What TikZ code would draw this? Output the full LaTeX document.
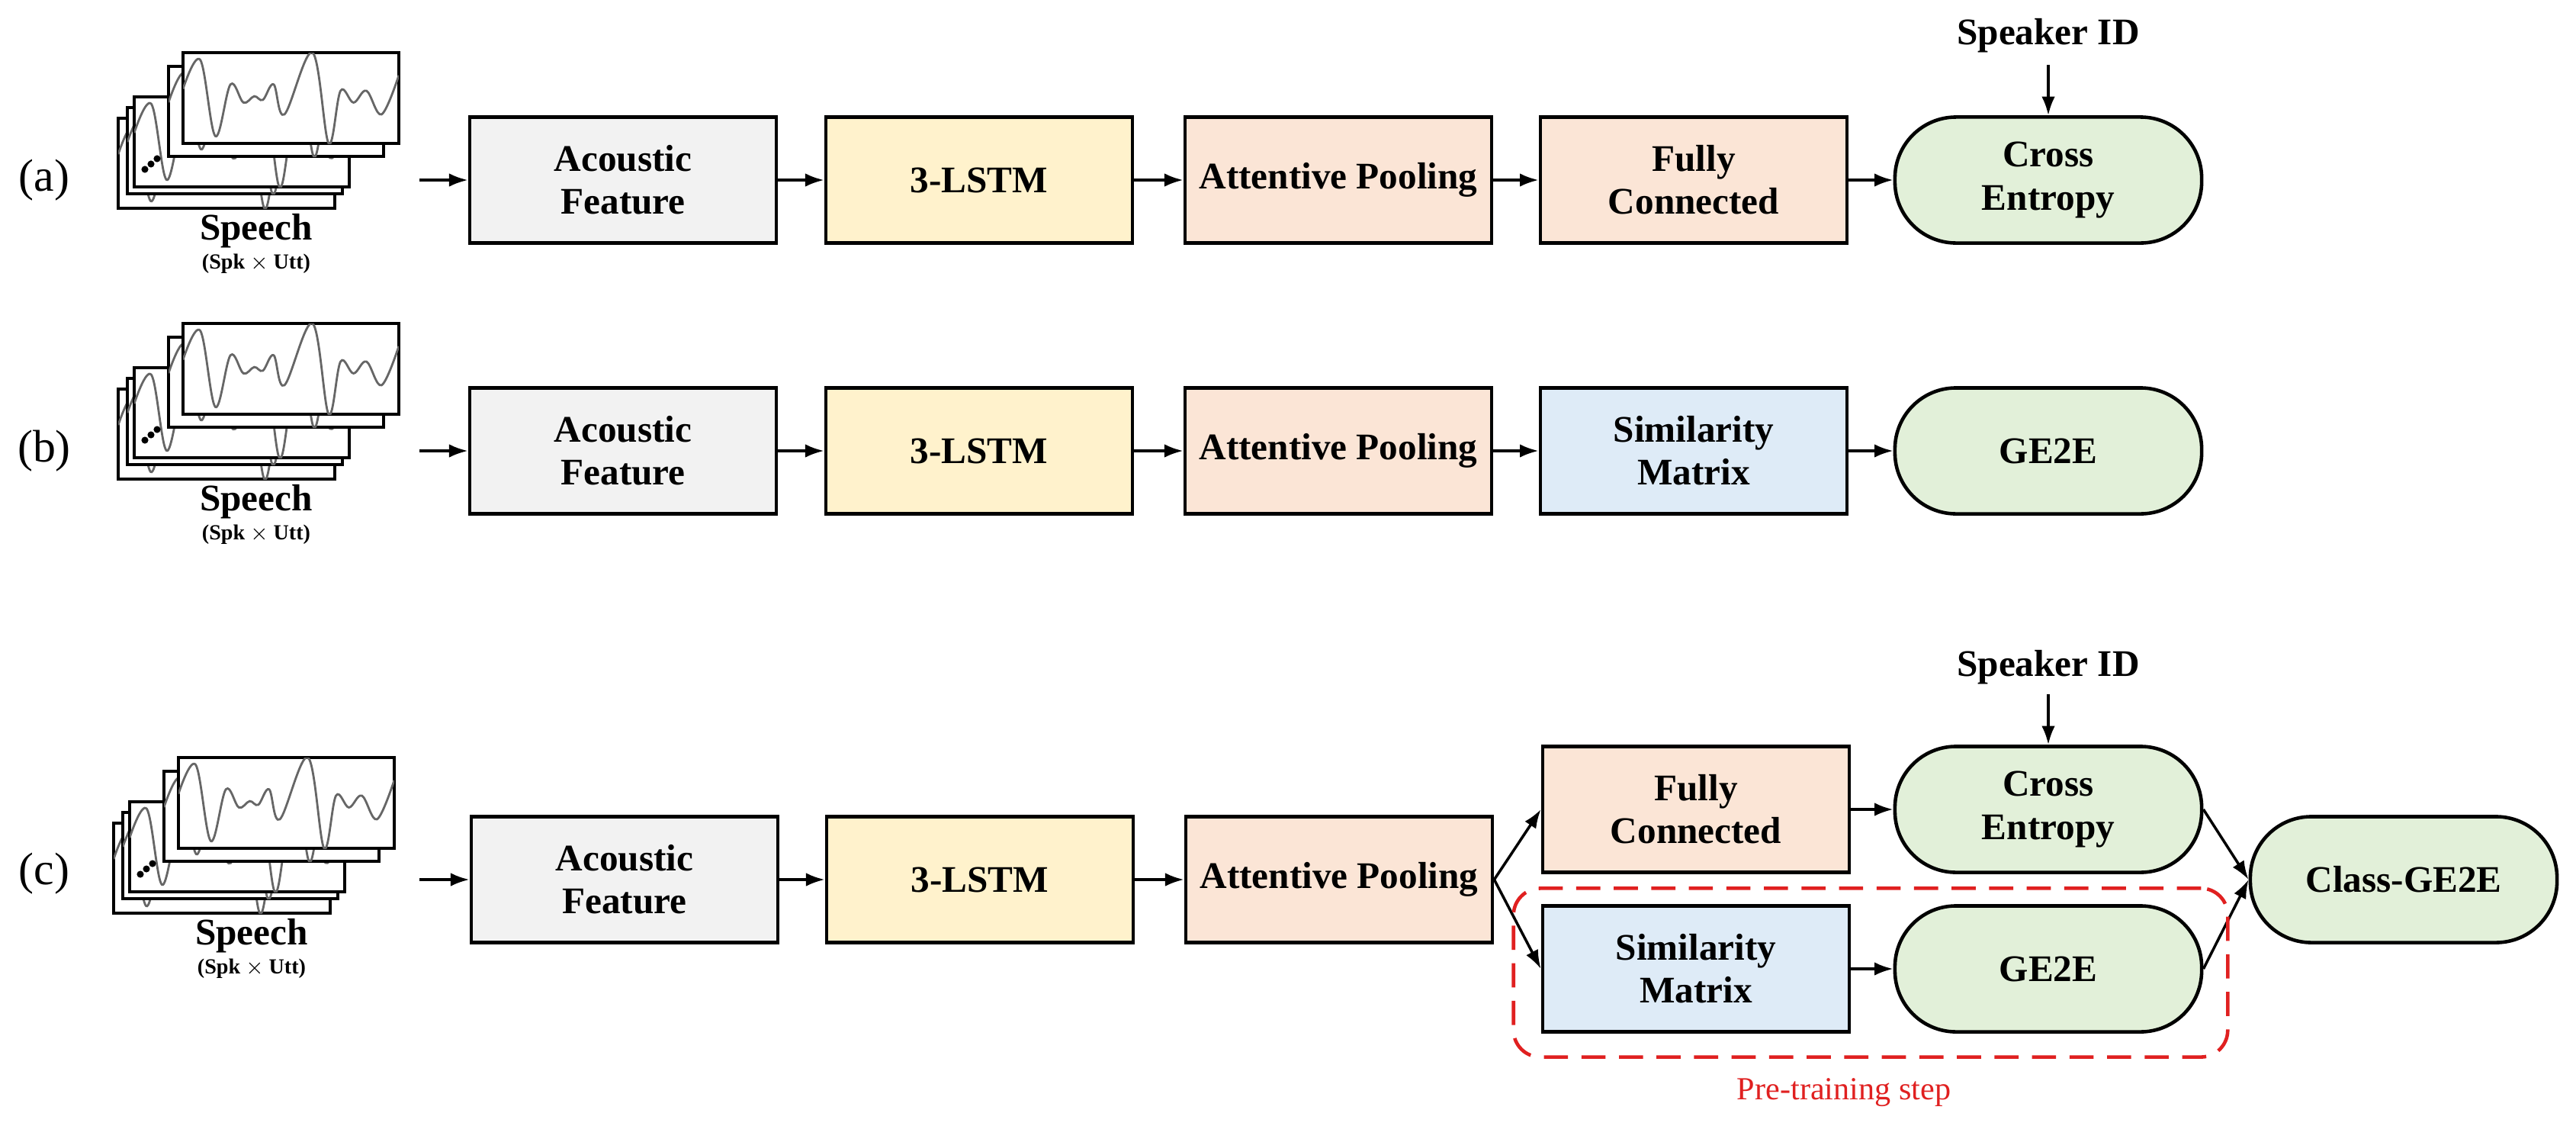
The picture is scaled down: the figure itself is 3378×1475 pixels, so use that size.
\documentclass[tikz,border=0pt]{standalone}
\usepackage{fontspec}
\setmainfont{Liberation Serif}
\usetikzlibrary{arrows.meta}
\definecolor{cgray}{HTML}{F2F2F2}
\definecolor{cyel}{HTML}{FFF2CC}
\definecolor{cpeach}{HTML}{FBE5D6}
\definecolor{cblue}{HTML}{DEEBF7}
\definecolor{cgreen}{HTML}{E2F0D9}
\definecolor{cred}{HTML}{E02020}
\tikzset{
  blk/.style={draw=black, line width=1.3pt, minimum width=4.02cm, minimum height=1.65cm, inner sep=0pt, align=center, font=\fontsize{14}{16}\selectfont\bfseries},
  stad/.style={blk, rounded corners=0.8cm},
  arr/.style={-{Latex[length=7pt,width=5pt]}, line width=1pt},
  lab/.style={font=\fontsize{17}{20}\selectfont},
  wrect/.style={draw=black, line width=1.1pt, fill=white},
  wave/.style={draw=gray!80!black, line width=0.8pt}
}
\newcommand{\wavein}[4]{% x0 y0 w h
  \begin{scope}
  \clip (#1,#2) rectangle ++(#3,#4);
  \draw[wave, smooth, tension=0.6] plot coordinates {
    ({#1+0.00*#3},{#2+0.5*#4-0.10*#4})
    ({#1+0.08*#3},{#2+0.5*#4-0.42*#4})
    ({#1+0.15*#3},{#2+0.5*#4+0.42*#4})
    ({#1+0.22*#3},{#2+0.5*#4-0.15*#4})
    ({#1+0.28*#3},{#2+0.5*#4+0.05*#4})
    ({#1+0.33*#3},{#2+0.5*#4-0.02*#4})
    ({#1+0.37*#3},{#2+0.5*#4+0.02*#4})
    ({#1+0.42*#3},{#2+0.5*#4-0.15*#4})
    ({#1+0.47*#3},{#2+0.5*#4+0.18*#4})
    ({#1+0.60*#3},{#2+0.5*#4-0.50*#4})
    ({#1+0.675*#3},{#2+0.5*#4+0.50*#4})
    ({#1+0.73*#3},{#2+0.5*#4-0.08*#4})
    ({#1+0.79*#3},{#2+0.5*#4+0.05*#4})
    ({#1+0.85*#3},{#2+0.5*#4-0.08*#4})
    ({#1+0.92*#3},{#2+0.5*#4+0.18*#4})
    ({#1+1.00*#3},{#2+0.5*#4-0.25*#4})
  };
  \end{scope}}
\newcommand{\speechicon}[3]{% dx dy name
  \begin{scope}[shift={(#1,#2)}]
    \draw[wrect] (155,155) rectangle (439,273);
    \wavein{155}{155}{284}{118}
    \draw[wrect] (167,141) rectangle (449,254);
    \wavein{167}{141}{282}{113}
    \draw[wrect] (176,127) rectangle (458,245);
    \wavein{176}{127}{282}{118}
    \fill (190,222) circle (1.3pt) (198,215) circle (1.3pt) (206,208) circle (1.3pt);
    \draw[wrect] (221,87) rectangle (503,205);
    \wavein{221}{87}{282}{118}
    \draw[wrect] (240,69) rectangle (523,188);
    \wavein{240}{69}{283}{119}
    \node[font=\fontsize{14}{16}\selectfont\bfseries] (#3t) at (336,303) {Speech};
    \node[font=\fontsize{8}{9}\selectfont\bfseries] (#3s) at (336,346) {(Spk $\times$ Utt)};
  \end{scope}}
\begin{document}
\begin{tikzpicture}[x=0.01cm,y=-0.01cm]
\useasboundingbox (0,0) rectangle (3378,1475);
% row a
\node[lab] (la) at (58,236) {(a)};
\speechicon{0}{0}{spa}
\coordinate (sa) at (550,236);
\node[blk, fill=cgray] (afa) at (817,236) {Acoustic\\Feature};
\node[blk, fill=cyel] (lsa) at (1284,236) {3-LSTM};
\node[blk, fill=cpeach] (apa) at (1755,236) {Attentive Pooling};
\node[blk, fill=cpeach] (fca) at (2221,236) {Fully\\Connected};
\node[stad, fill=cgreen] (cea) at (2686,236) {Cross\\Entropy};
\node[font=\fontsize{14}{16}\selectfont\bfseries] (sida) at (2686,47) {Speaker ID};
\coordinate (sidae) at (2686,85);
\draw[arr] (sa) -- (afa);
\draw[arr] (afa) -- (lsa);
\draw[arr] (lsa) -- (apa);
\draw[arr] (apa) -- (fca);
\draw[arr] (fca) -- (cea);
\draw[arr] (sidae) -- (cea.north);
% row b
\node[lab] (lb) at (58,591) {(b)};
\speechicon{0}{355}{spb}
\coordinate (sb) at (550,591);
\node[blk, fill=cgray] (afb) at (817,591) {Acoustic\\Feature};
\node[blk, fill=cyel] (lsb) at (1284,591) {3-LSTM};
\node[blk, fill=cpeach] (apb) at (1755,591) {Attentive Pooling};
\node[blk, fill=cblue] (smb) at (2221,591) {Similarity\\Matrix};
\node[stad, fill=cgreen] (geb) at (2686,591) {GE2E};
\draw[arr] (sb) -- (afb);
\draw[arr] (afb) -- (lsb);
\draw[arr] (lsb) -- (apb);
\draw[arr] (apb) -- (smb);
\draw[arr] (smb) -- (geb);
% row c
\node[lab] (lc) at (58,1145) {(c)};
\speechicon{-6}{924}{spc}
\coordinate (sc) at (550,1153);
\node[blk, fill=cgray] (afc) at (819,1153) {Acoustic\\Feature};
\node[blk, fill=cyel] (lsc) at (1285,1153) {3-LSTM};
\node[blk, fill=cpeach] (apc) at (1756,1153) {Attentive Pooling};
\node[blk, fill=cpeach] (fcc) at (2224,1061) {Fully\\Connected};
\node[blk, fill=cblue] (smc) at (2224,1270) {Similarity\\Matrix};
\node[stad, fill=cgreen] (cec) at (2686,1061) {Cross\\Entropy};
\node[stad, fill=cgreen] (gec) at (2686,1270) {GE2E};
\node[stad, fill=cgreen] (cgc) at (3152,1153) {Class-GE2E};
\node[font=\fontsize{14}{16}\selectfont\bfseries] (sidc) at (2686,875) {Speaker ID};
\coordinate (sidce) at (2686,910);
\draw[arr] (sc) -- (afc);
\draw[arr] (afc) -- (lsc);
\draw[arr] (lsc) -- (apc);
\draw[arr] (apc.east) -- (fcc.west);
\draw[arr] (apc.east) -- (smc.west);
\draw[arr] (fcc) -- (cec);
\draw[arr] (smc) -- (gec);
\draw[arr] (sidce) -- (cec.north);
\draw[arr] (cec.east) -- (cgc.west);
\draw[arr] (gec.east) -- (cgc.west);
\node[draw=cred, dashed, dash pattern=on 9pt off 5pt, line width=1.3pt, rounded corners=0.35cm, minimum width=9.36cm, minimum height=2.21cm] (pre) at (2453,1275) {};
\node[text=cred, font=\fontsize{12}{14}\selectfont] (pret) at (2418,1432) {Pre-training step};
\end{tikzpicture}
\end{document}
